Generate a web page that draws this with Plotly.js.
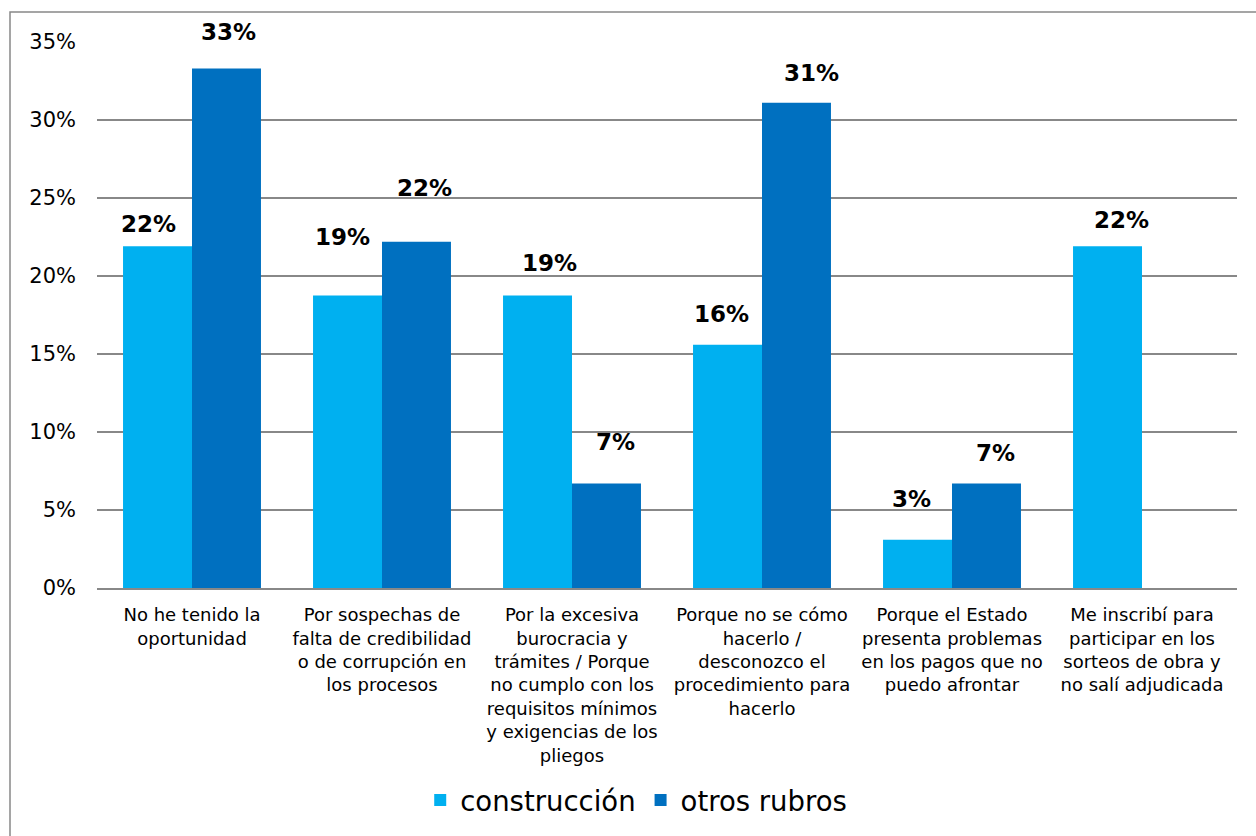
<!DOCTYPE html>
<html>
<head>
<meta charset="utf-8">
<script src="https://cdn.plot.ly/plotly-3.0.1.min.js"></script>
<style>
  html, body { margin: 0; padding: 0; background: #ffffff; }
  #chart { width: 1256px; height: 836px; }
</style>
</head>
<body>
<div id="chart"></div>
<script>
// ---- data ----
const categories = [
  "No he tenido la<br>oportunidad",
  "Por sospechas de<br>falta de credibilidad<br>o de corrupción en<br>los procesos",
  "Por la excesiva<br>burocracia y<br>trámites / Porque<br>no cumplo con los<br>requisitos mínimos<br>y exigencias de los<br>pliegos",
  "Porque no se cómo<br>hacerlo /<br>desconozco el<br>procedimiento para<br>hacerlo",
  "Porque el Estado<br>presenta problemas<br>en los pagos que no<br>puedo afrontar",
  "Me inscribí para<br>participar en los<br>sorteos de obra y<br>no salí adjudicada"
];
const seriesNames = ["construcción", "otros rubros"];
const construccion = [21.9, 18.75, 18.75, 15.6, 3.1, 21.9];
const otrosRubros = [33.3, 22.2, 6.7, 31.1, 6.7, 0];
const yTickVals = [0, 5, 10, 15, 20, 25, 30, 35];
const yTickText = ["0%", "5%", "10%", "15%", "20%", "25%", "30%", "35%"];

// ---- style (label nudges in px, as placed in the original) ----
const colors = ["#00B0F0", "#0070C0"];
const labelDx = [[-9.5, -5.5, 11.5, -6.5, -6, 14], [2, 8, 9, 15, 8.5, 0]];
const labelDy = [[22, 58.5, 32.5, 31, 41, 26], [37, 54, 41, 30, 30, 0]];
const halfBar = 34.5;

const allSeries = [construccion, otrosRubros];
const traces = allSeries.map((vals, i) => ({
  type: "bar",
  name: seriesNames[i],
  x: categories,
  y: vals,
  marker: { color: colors[i], line: { width: 0 } },
  hoverinfo: "skip"
}));

const annotations = [];
allSeries.forEach((vals, s) => {
  vals.forEach((v, k) => {
    if (!v) return;
    annotations.push({
      x: categories[k], y: v, xref: "x", yref: "y",
      text: Math.round(v) + "%",
      showarrow: false,
      xanchor: "center", yanchor: "middle",
      xshift: (s === 0 ? -halfBar : halfBar) + labelDx[s][k],
      yshift: labelDy[s][k],
      font: { family: "DejaVu Sans", size: 23, color: "#000000", weight: "bold" }
    });
  });
});

const L = 97, R = 19, T = 42, B = 248;
const pw = 1256 - L - R, ph = 836 - T - B;
const layout = {
  width: 1256, height: 836,
  margin: { l: L, r: R, t: T, b: B, pad: 0 },
  paper_bgcolor: "#ffffff", plot_bgcolor: "#ffffff",
  font: { family: "DejaVu Sans", color: "#000000" },
  barmode: "group",
  bargap: 0.274,
  bargroupgap: 0,
  showlegend: true,
  legend: {
    orientation: "h",
    x: 0.473, xanchor: "center",
    y: (ph - (800 - T)) / ph, yanchor: "middle",
    font: { family: "DejaVu Sans", size: 27.5, color: "#000000" },
    itemsizing: "constant",
    itemwidth: 30,
    traceorder: "normal"
  },
  xaxis: {
    type: "category",
    showgrid: false,
    showline: true, linecolor: "#888888", linewidth: 1.5,
    ticks: "", ticklabelstandoff: 10,
    tickangle: 0,
    tickfont: { family: "DejaVu Sans", size: 18, color: "#000000" },
    fixedrange: true
  },
  yaxis: {
    range: [0, 35],
    tickvals: yTickVals, ticktext: yTickText,
    showgrid: true, gridcolor: "#888888", gridwidth: 1.5,
    zeroline: false,
    showline: false,
    ticks: "", ticklabelstandoff: 20,
    tickfont: { family: "DejaVu Sans", size: 21, color: "#000000" },
    fixedrange: true
  },
  annotations: annotations,
  shapes: [{
    type: "rect", xref: "paper", yref: "paper", layer: "below",
    x0: (10 - L) / pw, x1: (1275 - L) / pw,
    y0: (ph - (860 - T)) / ph, y1: (ph - (12 - T)) / ph,
    line: { color: "#888888", width: 1.5 },
    fillcolor: "rgba(0,0,0,0)"
  }]
};

Plotly.newPlot("chart", traces, layout, { displayModeBar: false, staticPlot: true });
</script>
</body>
</html>
